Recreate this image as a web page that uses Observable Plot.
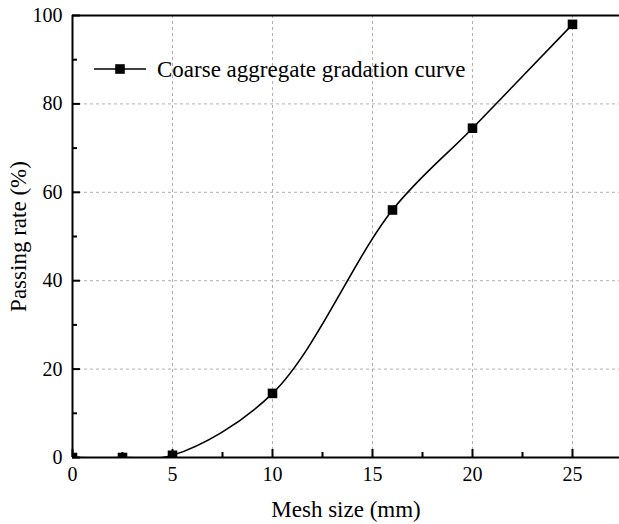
<!DOCTYPE html>
<html>
<head>
<meta charset="utf-8">
<script src="https://cdn.jsdelivr.net/npm/d3@7"></script>
<script src="https://cdn.jsdelivr.net/npm/@observablehq/plot@0.6"></script>
<style>
  html, body { margin: 0; padding: 0; background: #fff; }
  #chart { position: relative; width: 619px; height: 524px; }
</style>
</head>
<body>
<div id="chart"></div>
<script>
const meshSize = [0, 2.5, 5, 10, 16, 20, 25];
const passingRate = [0, 0, 0.5, 14.5, 56, 74.5, 98];
const seriesName = "Coarse aggregate gradation curve";
const xMajorTicks = [0, 5, 10, 15, 20, 25];
const xMinorTicks = [2.5, 7.5, 12.5, 17.5, 22.5];
const yMajorTicks = [0, 20, 40, 60, 80, 100];
const yMinorTicks = [10, 30, 50, 70, 90];
const xGrid = [5, 10, 15, 20, 25];
const yGrid = [20, 40, 60, 80];
const xLabel = "Mesh size (mm)";
const yLabel = "Passing rate (%)";

const data = meshSize.map((x, i) => ({x, y: passingRate[i]}));

const W = 619, H = 524;
const mL = 72, mT = 15, mB = 67, mR = 0;
const plotW = W - mL - mR, plotH = H - mT - mB;
const FONT = "'Liberation Serif', 'Times New Roman', serif";

const chart = Plot.plot({
  width: W,
  height: H,
  marginLeft: mL,
  marginTop: mT,
  marginBottom: mB,
  marginRight: mR,
  style: {fontFamily: FONT, fontSize: "20px", color: "#000", background: "#fff"},
  x: {domain: [0, 27.35]},
  y: {domain: [0, 100]},
  marks: [
    Plot.gridX(xGrid, {stroke: "#b0b0b0", strokeOpacity: 1, strokeDasharray: "3,3", strokeWidth: 1}),
    Plot.gridY(yGrid, {stroke: "#b0b0b0", strokeOpacity: 1, strokeDasharray: "3,3", strokeWidth: 1}),
    Plot.line(data, {x: "x", y: "y", curve: "catmull-rom", stroke: "#000", strokeWidth: 1.6, clip: true}),
    Plot.dot(data, {x: "x", y: "y", symbol: "square", r: 5.4, fill: "#000", stroke: "none", clip: true}),
    Plot.ruleX([0], {stroke: "#000", strokeWidth: 2}),
    Plot.ruleY([0], {stroke: "#000", strokeWidth: 2}),
    Plot.ruleY([100], {stroke: "#000", strokeWidth: 2}),
    Plot.ruleX(xMajorTicks, {x: d => d, insetTop: plotH - 8, stroke: "#000", strokeWidth: 2}),
    Plot.ruleX(xMinorTicks, {x: d => d, insetTop: plotH - 5, stroke: "#000", strokeWidth: 2}),
    Plot.ruleY(yMajorTicks, {y: d => d, insetRight: plotW - 8, stroke: "#000", strokeWidth: 2}),
    Plot.ruleY(yMinorTicks, {y: d => d, insetRight: plotW - 5, stroke: "#000", strokeWidth: 2}),
    Plot.axisX(xMajorTicks, {tickSize: 0, tickPadding: 9, fontSize: 20, label: null}),
    Plot.axisY(yMajorTicks, {tickSize: 0, tickPadding: 10, fontSize: 20, label: null}),
    Plot.text([xLabel], {frameAnchor: "bottom", dy: 52, fontSize: 23, lineAnchor: "middle", textAnchor: "middle", fill: "#000"}),
    Plot.text([yLabel], {frameAnchor: "left", dx: -54, rotate: -90, fontSize: 23, lineAnchor: "middle", textAnchor: "middle", fill: "#000"})
  ]
});

document.getElementById("chart").appendChild(chart);

const svg = d3.select(chart);
const lg = svg.append("g").attr("font-family", FONT).attr("text-anchor", "start");
const ly = 69, lx0 = 94, lx1 = 146;
lg.append("line").attr("x1", lx0).attr("x2", lx1).attr("y1", ly).attr("y2", ly).attr("stroke", "#000").attr("stroke-width", 1.6);
lg.append("rect").attr("x", (lx0 + lx1) / 2 - 4.8).attr("y", ly - 4.8).attr("width", 9.6).attr("height", 9.6).attr("fill", "#000");
lg.append("text").attr("x", 157).attr("y", ly).attr("dy", "0.35em").attr("font-size", 23).attr("fill", "#000").attr("text-anchor", "start").text(seriesName);
</script>
</body>
</html>
